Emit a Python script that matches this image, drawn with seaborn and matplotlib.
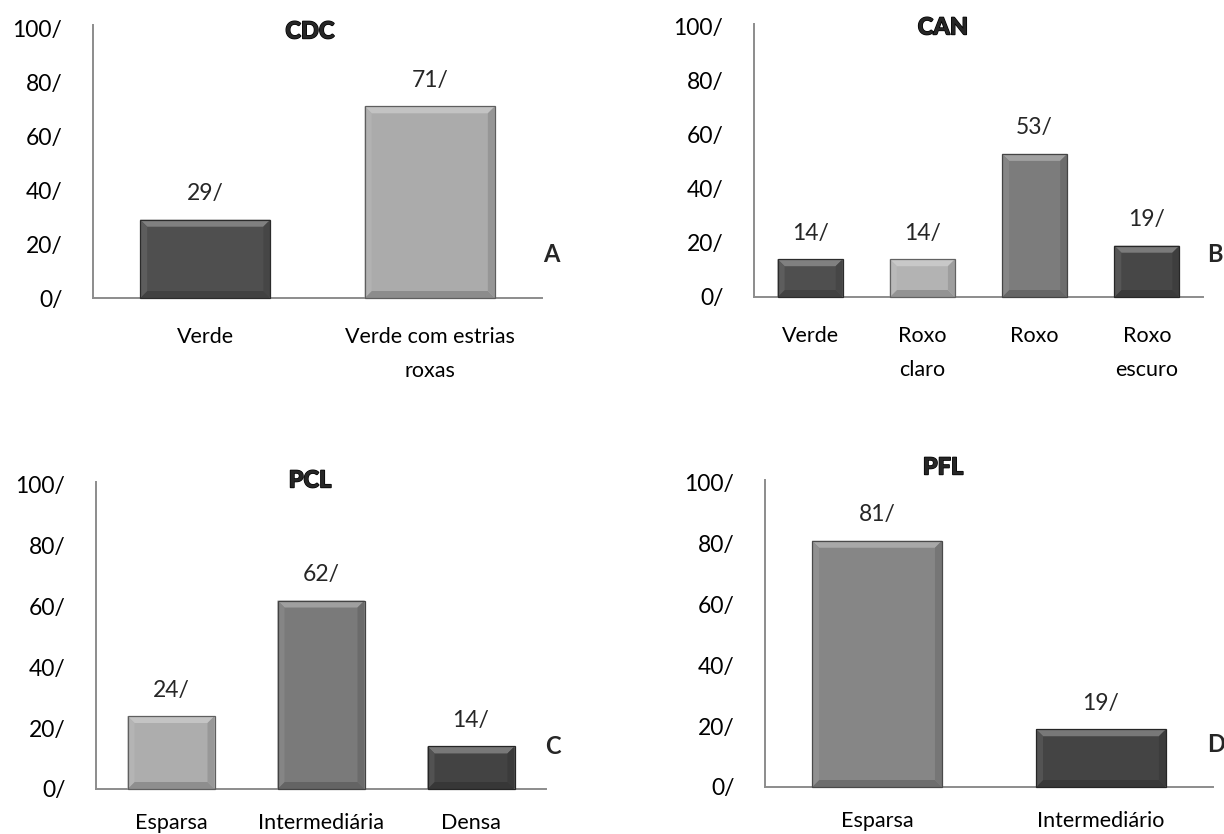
import matplotlib
matplotlib.use("Agg")
import matplotlib.pyplot as plt
import matplotlib.patheffects as pe
import seaborn as sns
import pandas as pd
from matplotlib.patches import Polygon
from matplotlib.transforms import IdentityTransform

# Panel data (percent of accessions per class)
cdc_labels = ["Verde", "Verde com estrias\nroxas"]
cdc_values = [29, 71]
cdc_colors = ["#4f4f4f", "#ababab"]

can_labels = ["Verde", "Roxo\nclaro", "Roxo", "Roxo\nescuro"]
can_values = [14, 14, 53, 19]
can_colors = ["#4f4f4f", "#b3b3b3", "#7c7c7c", "#474747"]

pcl_labels = ["Esparsa", "Intermediária", "Densa"]
pcl_values = [24, 62, 14]
pcl_colors = ["#adadad", "#7a7a7a", "#434343"]

pfl_labels = ["Esparsa", "Intermediário"]
pfl_values = [81, 19]
pfl_colors = ["#868686", "#444444"]

y_ticks = [0, 20, 40, 60, 80, 100]

sns.set_theme(style="white")
plt.rcParams["font.family"] = ["Lato", "DejaVu Sans"]

W, H = 1224, 834
fig = plt.figure(figsize=(W / 100, H / 100), dpi=100)

FS = 16.5
FS_CAT = 15.5


def px_axes(x0, x1, ytop, ybot):
    return fig.add_axes([x0 / W, 1 - ybot / H, (x1 - x0) / W, (ybot - ytop) / H])


def shade(c, f):
    r, g, b = matplotlib.colors.to_rgb(c)
    if f >= 0:
        return (r + (1 - r) * f, g + (1 - g) * f, b + (1 - b) * f)
    return (r * (1 + f), g * (1 + f), b * (1 + f))


def bevel(ax, patches, colors, size=7):
    fig.canvas.draw()
    for p, c in zip(patches, colors):
        (x0, y0), (x1, y1) = ax.transData.transform(
            [(p.get_x(), p.get_y()), (p.get_x() + p.get_width(), p.get_y() + p.get_height())])
        s = min(size, (y1 - y0) / 3)
        faces = [
            ([(x0, y1), (x1, y1), (x1 - s, y1 - s), (x0 + s, y1 - s)], shade(c, 0.28)),
            ([(x0, y0), (x1, y0), (x1 - s, y0 + s), (x0 + s, y0 + s)], shade(c, -0.18)),
            ([(x0, y0), (x0, y1), (x0 + s, y1 - s), (x0 + s, y0 + s)], shade(c, 0.08)),
            ([(x1, y0), (x1, y1), (x1 - s, y1 - s), (x1 - s, y0 + s)], shade(c, -0.12)),
        ]
        for pts, fc in faces:
            fig.add_artist(Polygon(pts, closed=True, facecolor=fc, edgecolor="none",
                                   transform=IdentityTransform(), zorder=5))
        fig.add_artist(Polygon([(x0, y0), (x1, y0), (x1, y1), (x0, y1)], closed=True,
                               facecolor="none", edgecolor=shade(c, -0.45), lw=0.9,
                               transform=IdentityTransform(), zorder=6))


def panel(box, labels, values, colors, title, title_xy, letter, letter_x, xpad):
    ax = px_axes(*box)
    df = pd.DataFrame({"cat": labels, "val": values})
    sns.barplot(data=df, x="cat", y="val", hue="cat", palette=colors, legend=False,
                width=0.58, saturation=1, ax=ax)
    ax.set_ylim(0, 100)
    ax.set_xlim(-0.5, len(labels) - 0.5)
    ax.set_yticks(y_ticks)
    ax.set_yticklabels([f"{t}/" for t in y_ticks])
    ax.tick_params(axis="y", length=0, pad=22, labelsize=FS, labelcolor="black")
    ax.tick_params(axis="x", length=0, pad=xpad, labelsize=FS_CAT, labelcolor="black")
    for t in ax.get_xticklabels():
        t.set_linespacing(1.85)
    ax.set_xlabel("")
    ax.set_ylabel("")
    for side in ["top", "right"]:
        ax.spines[side].set_visible(False)
    for side in ["left", "bottom"]:
        ax.spines[side].set_color("#8c8c8c")
        ax.spines[side].set_linewidth(1.4)
    ax.spines["left"].set_bounds(0, 101)
    ax.grid(False)
    bars = list(ax.patches)
    for b, v in zip(bars, values):
        ax.annotate(f"{v}/", (b.get_x() + b.get_width() / 2, v), xytext=(0, 26),
                    textcoords="offset pixels", ha="center", va="center", fontsize=FS)
    fig.text(title_xy[0] / W, 1 - title_xy[1] / H, title, ha="center", va="center",
             fontsize=17, fontweight="black",
             path_effects=[pe.withStroke(linewidth=1.0, foreground="black")])
    fig.text(letter_x / W, 1 - (box[3] - 43) / H, letter, ha="center", va="center",
             fontsize=17, fontweight="bold")
    bevel(ax, bars, colors)
    return ax


panel((93, 542, 28, 298), cdc_labels, cdc_values, cdc_colors, "CDC", (310, 31), "A", 551, 21)
panel((754, 1203, 27, 297), can_labels, can_values, can_colors, "CAN", (943, 27), "B", 1215, 21)
panel((96, 546, 485, 789), pcl_labels, pcl_values, pcl_colors, "PCL", (310, 480), "C", 553, 17)
panel((765, 1213, 483, 787), pfl_labels, pfl_values, pfl_colors, "PFL", (943, 467), "D", 1216, 17)

fig.savefig("out.png", dpi=100, facecolor="white")
